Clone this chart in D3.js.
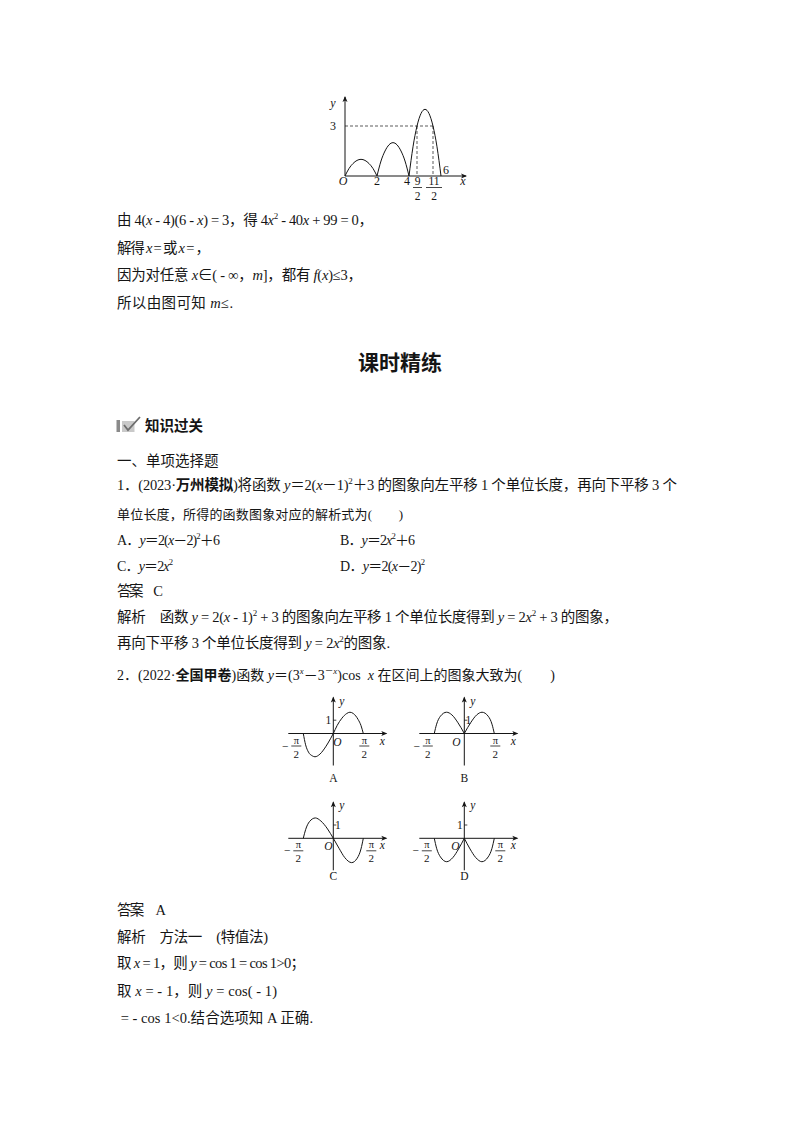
<!DOCTYPE html>
<html><head><meta charset="utf-8">
<script src="https://cdn.jsdelivr.net/npm/d3@7"></script>
<style>body{margin:0;background:#fff} svg{display:block}</style>
</head><body><div></div>
<script>
// top graph: f(x) on [0,6], three humps
const hump1 = [[0,0],[0.25,0.45],[0.5,0.75],[1,1],[1.5,0.75],[1.75,0.45],[2,0]];
const hump2 = [[2,0],[2.25,0.9],[2.5,1.5],[3,2],[3.5,1.5],[3.75,0.9],[4,0]];
const hump3 = [[4,0],[4.25,1.75],[4.5,3],[5,4],[5.5,3],[5.75,1.75],[6,0]];
const topTicks = ["2","4"];
const topTickVals = [2,4];
const topFracs = [[4.5,"9","2"],[5.5,"11","2"]];

// small graphs: x in rad, y in units of the "1" mark
const curveA = [[-1.571,0],[-1.45,-0.85],[-1.3,-1.4],[-1.1,-1.68],[-0.96,-1.75],[-0.7,-1.55],[-0.4,-1.0],[-0.15,-0.4],[0,0],
                [0.2,0.6],[0.45,1.15],[0.7,1.5],[0.87,1.6],[1.05,1.5],[1.3,1.05],[1.45,0.6],[1.571,0]];
const curveBLeft = [[-1.571,0],[-1.45,0.7],[-1.25,1.3],[-0.93,1.6],[-0.65,1.4],[-0.35,0.85],[0,0]];
const curveBRight = [[0,0],[0.35,0.85],[0.65,1.4],[0.93,1.6],[1.25,1.3],[1.45,0.7],[1.571,0]];
const curveC = [[-1.571,0],[-1.45,0.65],[-1.25,1.25],[-0.94,1.53],[-0.65,1.3],[-0.3,0.7],[0,0],
                [0.3,-0.75],[0.6,-1.45],[0.96,-1.83],[1.25,-1.5],[1.45,-0.8],[1.571,0]];
const curveDLeft = [[-1.571,0],[-1.45,-0.75],[-1.25,-1.4],[-0.92,-1.76],[-0.6,-1.45],[-0.3,-0.8],[0,0]];
const curveDRight = [[0,0],[0.3,-0.8],[0.6,-1.45],[0.92,-1.76],[1.25,-1.4],[1.45,-0.75],[1.571,0]];
const optionNames = ["A","B","C","D"];

// page text ( _ italic, ^ superscript, * bold )
const bodyText = [
  "由 4(_x_ - 4)(6 - _x_) = 3，得 4_x_^2^ - 40_x_ + 99 = 0，",
  "解得 _x_ = 或 _x_ = ，",
  "因为对任意 _x_∈( - ∞，_m_]，都有 _f_(_x_)≤3，",
  "所以由图可知 _m_≤.",
  "一、单项选择题",
  "1．(2023·*万州模拟*)将函数 _y_＝2(_x_－1)^2^＋3 的图象向左平移 1 个单位长度，再向下平移 3 个",
  "单位长度，所得的函数图象对应的解析式为(　　)",
  "A．_y_＝2(_x_－2)^2^＋6",
  "B．_y_＝2_x_^2^＋6",
  "C．_y_＝2_x_^2^",
  "D．_y_＝2(_x_－2)^2^",
  "答案　C",
  "解析　函数 _y_ = 2(_x_ - 1)^2^ + 3 的图象向左平移 1 个单位长度得到 _y_ = 2_x_^2^ + 3 的图象，",
  "再向下平移 3 个单位长度得到 _y_ = 2_x_^2^的图象.",
  "2．(2022·*全国甲卷*)函数 _y_＝(3^_x_^－3^－_x_^)cos  _x_ 在区间上的图象大致为(　　)",
  "答案　A",
  "解析　方法一　(特值法)",
  "取 _x_ = 1，则 _y_ = cos 1 = cos 1>0；",
  "取 _x_ = - 1，则 _y_ = cos( - 1)",
  " = - cos 1<0.结合选项知 A 正确."
];
const bodyPos = [
  [117,225,256],[117,253,93],[117,280,245],[117,308,116],
  [117,466,0],[117,490,560],[117,519,286],
  [117,545,103],[340,545,75],[117,571,56],[340,571,85],[117,596,46],
  [117,622,501],[117,648,273],[117,680,438],
  [117,915,49],[117,942,151],[117,968,188],[117,996,160],[117,1023,196]
];
const bodySize = [14.5,14.5,14.5,14.5,14.5,14.5,13,14,14,14,14,14.5,14.5,14.5,14,14.5,14.5,14.5,14.5,14.5];

const FONT = "'Liberation Serif','Noto Sans CJK SC',serif";
const INK = "#151515";

const svg = d3.select("div").append("svg").attr("width",800).attr("height",1132);
svg.append("rect").attr("width",800).attr("height",1132).attr("fill","#fff");

function rich(g, str, x, y, size, w){
  const t = g.append("text").attr("x",x).attr("y",y).attr("font-size",size)
    .attr("font-family",FONT).attr("fill",INK).style("white-space","pre");
  let segs=[], cur="", it=false, sup=false, bold=false;
  for (const ch of str){
    if (ch==="_"||ch==="^"||ch==="*"){
      if(cur) segs.push({s:cur,it,sup,bold}); cur="";
      if(ch==="_") it=!it; else if(ch==="^") sup=!sup; else bold=!bold;
    } else cur+=ch;
  }
  if(cur) segs.push({s:cur,it,sup,bold});
  let prevSup=false;
  segs.forEach(sg=>{
    const ts=t.append("tspan").text(sg.s);
    if(sg.it) ts.attr("font-style","italic");
    if(sg.bold) ts.attr("font-weight","bold");
    if(sg.sup){ ts.attr("font-size",size*0.62); if(!prevSup) ts.attr("dy",-size*0.42); }
    else if(prevSup) ts.attr("dy",size*0.42);
    prevSup=sg.sup;
  });
  if(w) t.attr("textLength",w).attr("lengthAdjust","spacing");
  return t;
}

const page = svg.append("g");
bodyText.forEach((s,i)=>{
  const p = bodyPos[i];
  rich(page, s, p[0], p[1], bodySize[i], p[2]);
});

// title
page.append("text").attr("x",400).attr("y",370).attr("text-anchor","middle")
  .attr("font-family","'Noto Sans CJK SC',sans-serif").attr("font-weight","bold")
  .attr("font-size",21).attr("fill",INK).text("课时精练");

// section header with icon
const icon = page.append("g");
icon.append("rect").attr("x",116.5).attr("y",420).attr("width",3.5).attr("height",12).attr("fill","#8a8a8a");
icon.append("rect").attr("x",122).attr("y",421).attr("width",12.5).attr("height",11).attr("fill","#c9c9c9");
icon.append("path").attr("d","M124,425 L128,430 L140,417").attr("fill","none").attr("stroke","#6d6d6d").attr("stroke-width",1.8);
page.append("text").attr("x",145).attr("y",431).attr("font-family","'Noto Sans CJK SC',sans-serif")
  .attr("font-weight","bold").attr("font-size",14.5).attr("fill",INK).text("知识过关");

function arrow(g, x, y, dir){
  const p = dir==="right" ? `M${x},${y} L${x-6},${y-2.5} L${x-4.5},${y} L${x-6},${y+2.5}Z`
                          : `M${x},${y} L${x-2.5},${y+6} L${x},${y+4.5} L${x+2.5},${y+6}Z`;
  g.append("path").attr("d",p).attr("fill",INK);
}
function label(g, x, y, txt, size, opts={}){
  return g.append("text").attr("x",x).attr("y",y).attr("font-size",size).attr("font-family",FONT)
    .attr("fill",INK).attr("text-anchor",opts.anchor||"middle")
    .attr("font-style",opts.it?"italic":null).text(txt);
}

// ---------- top graph ----------
const tg = svg.append("g");
const tx = d3.scaleLinear().domain([0,6]).range([345,441]);
const ty = d3.scaleLinear().domain([0,3]).range([176,126]);
const tline = d3.line().x(d=>tx(d[0])).y(d=>ty(d[1])).curve(d3.curveMonotoneX);

tg.append("line").attr("x1",tx(0)).attr("x2",466).attr("y1",ty(0)).attr("y2",ty(0)).attr("stroke",INK);
tg.append("line").attr("x1",tx(0)).attr("x2",tx(0)).attr("y1",ty(0)).attr("y2",97).attr("stroke",INK);
arrow(tg,467,ty(0),"right");
arrow(tg,tx(0),96,"up");

const dash = tg.append("g").attr("stroke",INK).attr("stroke-width",0.7).attr("stroke-dasharray","3,2");
dash.append("line").attr("x1",tx(0)).attr("x2",tx(5.5)).attr("y1",ty(3)).attr("y2",ty(3));
topFracs.forEach(f=>{
  dash.append("line").attr("x1",tx(f[0])).attr("x2",tx(f[0])).attr("y1",ty(3)).attr("y2",ty(0));
});

[hump1,hump2,hump3].forEach(h=>{
  tg.append("path").attr("d",tline(h)).attr("fill","none").attr("stroke",INK).attr("stroke-width",1);
});

label(tg,333,107,"y",12,{it:true});
label(tg,333,130,"3",12);
label(tg,343,185,"O",12,{it:true});
label(tg,463,185,"x",12,{it:true});
label(tg,tx(6)+5,174,"6",12);
topTicks.forEach((t,i)=>label(tg,tx(topTickVals[i])-(i===1?2:0),185,t,12));
topFracs.forEach(f=>{
  const cx = tx(f[0]) + (f[1]==="11"?1:0.5);
  label(tg,cx,184.5,f[1],11.5);
  tg.append("line").attr("x1",cx-(f[1].length*3.5+1)).attr("x2",cx+(f[1].length*3.5+1))
    .attr("y1",187.5).attr("y2",187.5).attr("stroke",INK).attr("stroke-width",0.8);
  label(tg,cx,200,f[2],11.5);
});

// ---------- small option graphs ----------
const origins = [[333.3,733.5],[464.3,733.5],[333.3,838.3],[464.3,838.3]];
const curveSets = [[curveA],[curveBLeft,curveBRight],[curveC],[curveDLeft,curveDRight]];
const oDx = [4,-8,-5,-9];       // "O" label offsets
const oneDx = [-5,4,4.5,-4.5];  // "1" label offsets
const negPiDx = [-37,-36.5,-35,-37.5];
const posPiDx = [31,31,38,36];

origins.forEach((o,i)=>{
  const g = svg.append("g");
  const x = d3.scaleLinear().domain([-Math.PI/2,Math.PI/2]).range([o[0]-30,o[0]+30]);
  const y = d3.scaleLinear().domain([0,1]).range([o[1],o[1]-13.3]);
  const line = d3.line().x(d=>x(d[0])).y(d=>y(d[1])).curve(d3.curveMonotoneX);

  g.append("line").attr("x1",o[0]-45).attr("x2",o[0]+53).attr("y1",y(0)).attr("y2",y(0)).attr("stroke",INK);
  g.append("line").attr("x1",x(0)).attr("x2",x(0)).attr("y1",o[1]+32).attr("y2",o[1]-36).attr("stroke",INK);
  arrow(g,o[0]+54,y(0),"right");
  arrow(g,x(0),o[1]-37,"up");
  g.append("line").attr("x1",x(0)).attr("x2",x(0)+3).attr("y1",y(1)).attr("y2",y(1)).attr("stroke",INK).attr("stroke-width",0.8);

  curveSets[i].forEach(c=>{
    g.append("path").attr("d",line(c)).attr("fill","none").attr("stroke",INK).attr("stroke-width",1);
  });

  label(g,o[0]+6,o[1]-29,"y",11.5,{it:true,anchor:"start"});
  label(g,o[0]+oneDx[i],y(1)+4,"1",11.5);
  label(g,o[0]+oDx[i],o[1]+12,"O",11.5,{it:true});
  label(g,o[0]+49,o[1]+11,"x",11.5,{it:true});

  [[negPiDx[i],true],[posPiDx[i],false]].forEach(([dx,neg])=>{
    const cx = o[0]+dx;
    if(neg) label(g,cx-11,o[1]+16,"−",11.5);
    label(g,cx,o[1]+10,"π",10.5);
    g.append("line").attr("x1",cx-5).attr("x2",cx+5).attr("y1",o[1]+12.5).attr("y2",o[1]+12.5)
      .attr("stroke",INK).attr("stroke-width",0.8);
    label(g,cx,o[1]+24,"2",11);
  });

  label(g,o[0],o[1]+(i<2?48:42),optionNames[i],11.5);
});
</script>
</body></html>
